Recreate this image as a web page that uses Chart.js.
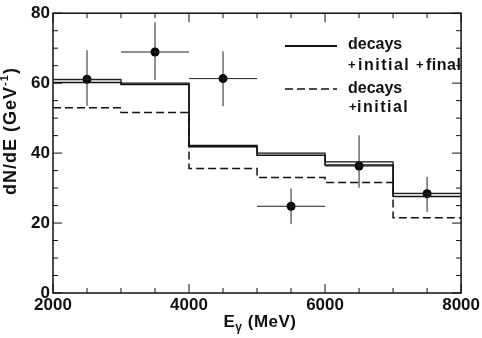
<!DOCTYPE html>
<html><head><meta charset="utf-8">
<script src="https://cdn.jsdelivr.net/npm/chart.js@4"></script>
<style>html,body{margin:0;padding:0;background:#fff}</style>
</head><body>
<div style="width:482px;height:338px"><canvas id="c" width="482" height="338"></canvas></div>
<script>
const binEdges=[2000,3000,4000,5000,6000,7000,8000];
const fullUpper=[61.0,60.0,42.2,40.0,37.5,28.5];
const fullLower=[60.2,59.6,41.8,39.4,36.6,27.6];
const decaysInitial=[53.0,51.6,35.6,33.0,31.6,21.5];
const pointE=[2500,3500,4500,5500,6500,7500];
const pointN=[61.1,68.9,61.3,24.8,36.3,28.4];
const errLow=[53.5,60.9,53.4,19.7,30.1,23.2];
const errHigh=[69.4,77.4,69.1,29.9,45.1,33.2];
const errELow=[2000,3000,4000,5000,6000,7000];
const errEHigh=[3000,4000,5000,6000,7000,8000];
const xTickLabels=[2000,4000,6000,8000];
const yTickLabels=[0,20,40,60,80];

const FONT='"Liberation Sans", Arial, sans-serif';
function steps(vals){const p=vals.map((v,i)=>({x:binEdges[i],y:v}));p.push({x:binEdges[binEdges.length-1],y:vals[vals.length-1]});return p;}

const framePlugin={
  id:'frame',
  afterDatasetsDraw(chart){
    const ctx=chart.ctx, xs=chart.scales.x, ys=chart.scales.y, a=chart.chartArea;
    ctx.save();
    ctx.strokeStyle='#222'; ctx.lineWidth=1;
    for(let i=0;i<pointE.length;i++){
      const px=xs.getPixelForValue(pointE[i]), py=ys.getPixelForValue(pointN[i]);
      ctx.beginPath();
      ctx.moveTo(px,ys.getPixelForValue(errLow[i])); ctx.lineTo(px,ys.getPixelForValue(errHigh[i]));
      ctx.moveTo(xs.getPixelForValue(errELow[i]),py); ctx.lineTo(xs.getPixelForValue(errEHigh[i]),py);
      ctx.stroke();
    }
    ctx.strokeStyle='#111'; ctx.lineWidth=1.5;
    ctx.strokeRect(a.left,a.top,a.right-a.left,a.bottom-a.top);
    ctx.lineWidth=1;
    for(let v=0;v<=80;v+=5){
      const y=ys.getPixelForValue(v), L=(v%20===0)?9:5;
      ctx.beginPath(); ctx.moveTo(a.left,y); ctx.lineTo(a.left+L,y); ctx.moveTo(a.right,y); ctx.lineTo(a.right-L,y); ctx.stroke();
    }
    for(let v=2000;v<=8000;v+=500){
      const x=xs.getPixelForValue(v), L=(v%2000===0)?9:5;
      ctx.beginPath(); ctx.moveTo(x,a.bottom); ctx.lineTo(x,a.bottom-L); ctx.moveTo(x,a.top); ctx.lineTo(x,a.top+L); ctx.stroke();
    }
    ctx.restore();
  },
  afterDraw(chart){
    const ctx=chart.ctx;
    ctx.save();
    ctx.fillStyle='#111';
    ctx.translate(11,131); ctx.rotate(-Math.PI/2);
    ctx.textBaseline='middle';
    ctx.letterSpacing='1px';
    const t1='dN/dE (GeV', t3=')';
    ctx.font='bold 11px '+FONT; const w2=ctx.measureText('-1').width;
    ctx.font='bold 18px '+FONT;
    const w1=ctx.measureText(t1).width, w3=ctx.measureText(t3).width;
    let x0=-(w1+w2+w3)/2;
    ctx.fillText(t1,x0,0); x0+=w1;
    ctx.font='bold 11px '+FONT; ctx.fillText('-1',x0,-6); x0+=w2;
    ctx.font='bold 18px '+FONT; ctx.fillText(t3,x0,0);
    ctx.restore();
    ctx.save(); ctx.fillStyle='#111'; ctx.textBaseline='middle';
    ctx.letterSpacing='0.5px';
    ctx.font='bold 17px '+FONT;
    const e='E', r=' (MeV)';
    const we=ctx.measureText(e).width, wr=ctx.measureText(r).width;
    ctx.font='bold 12px '+FONT; const wg=ctx.measureText('γ').width;
    let xx=260-(we+wg+wr)/2;
    ctx.font='bold 17px '+FONT; ctx.fillText(e,xx,322); xx+=we;
    ctx.font='bold 12px '+FONT; ctx.fillText('γ',xx,328); xx+=wg;
    ctx.font='bold 17px '+FONT; ctx.fillText(r,xx,322);
    ctx.letterSpacing='0px';
    ctx.strokeStyle='#111'; ctx.lineWidth=1.8;
    ctx.beginPath(); ctx.moveTo(285,46); ctx.lineTo(337,46); ctx.stroke();
    ctx.setLineDash([8,4]); ctx.lineWidth=1.5;
    ctx.beginPath(); ctx.moveTo(285,89); ctx.lineTo(337,89); ctx.stroke();
    ctx.setLineDash([]);
    ctx.font='bold 16px '+FONT;
    ctx.fillText('decays',348,45);
    ctx.fillText('decays',348,89);
    ctx.font='bold 13px '+FONT;
    ctx.fillText('+',348,65);
    ctx.fillText('+',416,65);
    ctx.fillText('+',349,107);
    ctx.font='bold 16px '+FONT;
    ctx.letterSpacing='1.5px';
    ctx.fillText('initial',358,66);
    ctx.fillText('initial',357,108);
    ctx.letterSpacing='0.5px';
    ctx.fillText('final',426,66);
    ctx.restore();
  }
};

new Chart(document.getElementById('c'),{
  type:'line',
  data:{datasets:[
    {data:steps(fullUpper),stepped:'before',borderColor:'#111',borderWidth:1.2,pointRadius:0,fill:false},
    {data:steps(fullLower),stepped:'before',borderColor:'#111',borderWidth:1.6,pointRadius:0,fill:false},
    {data:steps(decaysInitial),stepped:'before',borderColor:'#111',borderWidth:1.5,borderDash:[8,4],pointRadius:0,fill:false},
    {data:pointE.map((e,i)=>({x:e,y:pointN[i]})),showLine:false,pointRadius:4.5,pointBackgroundColor:'#000',pointBorderColor:'#000',borderWidth:0}
  ]},
  options:{
    responsive:false,animation:false,devicePixelRatio:1,
    layout:{padding:{top:9,right:5,left:0,bottom:0}},
    plugins:{legend:{display:false},tooltip:{enabled:false}},
    scales:{
      x:{type:'linear',min:2000,max:8000,
        grid:{display:false,drawTicks:false},border:{display:false},
        afterFit(s){s.height=45;},
        afterBuildTicks(s){s.ticks=xTickLabels.map(v=>({value:v}));},
        ticks:{padding:2,maxRotation:0,autoSkip:false,color:'#111',font:{family:FONT,size:17,weight:'bold'},callback:v=>String(v)}},
      y:{type:'linear',min:0,max:80,
        grid:{display:false,drawTicks:false},border:{display:false},
        afterFit(s){s.width=53;},
        afterBuildTicks(s){s.ticks=yTickLabels.map(v=>({value:v}));},
        ticks:{padding:3,color:'#111',font:{family:FONT,size:17,weight:'bold'},callback:v=>String(v)}}
    }
  },
  plugins:[framePlugin]
});
</script>
</body></html>
